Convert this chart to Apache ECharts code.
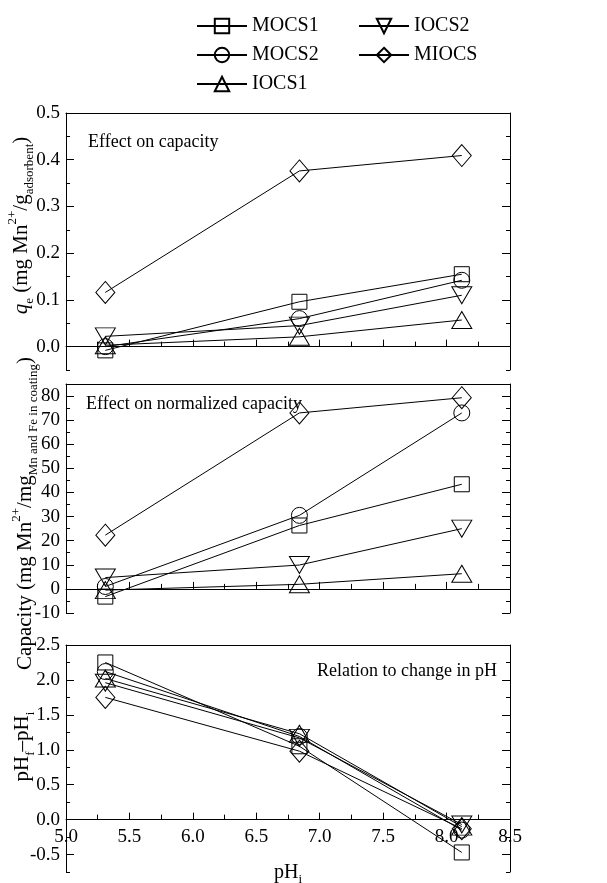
<!DOCTYPE html>
<html>
<head>
<meta charset="utf-8">
<script src="https://cdn.jsdelivr.net/npm/echarts@6/dist/echarts.min.js"></script>
<style>html,body{margin:0;background:#fff}#c{width:607px;height:883px}</style>
</head>
<body>
<div id="c"></div>
<script>
// pH-effekt på Mn2+-adsorption: tre paneler (q_e, normaliserad kapacitet, ΔpH)
const PH_I = [5.31, 6.84, 8.12]
const NAMES = ['MOCS1', 'MOCS2', 'IOCS1', 'IOCS2', 'MIOCS']

// panel 1: q_e (mg Mn2+/g adsorbent)
const QE_MOCS1 = [-0.008, 0.096, 0.155]
const QE_MOCS2 = [0.0, 0.06, 0.142]
const QE_IOCS1 = [0.003, 0.021, 0.057]
const QE_IOCS2 = [0.022, 0.045, 0.11]
const QE_MIOCS = [0.116, 0.376, 0.409]

// panel 2: normaliserad kapacitet
const NC_MOCS1 = [-3.2, 26.3, 43.4]
const NC_MOCS2 = [1.0, 30.5, 73.0]
const NC_IOCS1 = [-0.5, 1.9, 6.3]
const NC_IOCS2 = [4.7, 9.9, 25.0]
const NC_MIOCS = [22.3, 73.0, 79.3]

// panel 3: pHf - pHi
const DPH_MOCS1 = [2.25, 1.05, -0.47]
const DPH_MOCS2 = [2.12, 1.19, -0.15]
const DPH_IOCS1 = [2.02, 1.23, -0.1]
const DPH_IOCS2 = [1.96, 1.17, -0.07]
const DPH_MIOCS = [1.75, 0.98, -0.13]

const Y1_TICKS = [0, 0.1, 0.2, 0.3, 0.4, 0.5]
const Y2_TICKS = [-10, 0, 10, 20, 30, 40, 50, 60, 70, 80]
const Y3_TICKS = [-0.5, 0, 0.5, 1, 1.5, 2, 2.5]

const FONT = "'Liberation Serif', 'Times New Roman', serif"
const SYM = ['rect', 'circle', 'triangle', 'path://M0,0L20,0L10,17Z', 'diamond']
const SYM_SIZE = [[15, 15], [16, 16], [20, 17], [20, 17], [19, 22]]
const BLACK = '#000'

const GRIDS = [
  { left: 66, width: 444, top: 113, height: 257, outerBoundsMode: 'none' },
  { left: 66, width: 444, top: 384, height: 229, outerBoundsMode: 'none' },
  { left: 66, width: 444, top: 645, height: 227, outerBoundsMode: 'none' }
]
const Y3_MIN = -0.75, Y3_MAX = 2.5
// nedersta panelens x-axel (med etiketter) ligger vid y = 0
const X3_OFFSET = -GRIDS[2].height * (0 - Y3_MIN) / (Y3_MAX - Y3_MIN)

const nameRich = {
  t: { fontFamily: FONT, fontSize: 21, color: BLACK, lineHeight: 30 },
  i: { fontFamily: FONT, fontSize: 21, color: BLACK, lineHeight: 30, fontStyle: 'italic' },
  s: { fontFamily: FONT, fontSize: 13, color: BLACK, lineHeight: 13, verticalAlign: 'bottom' },
  p: { fontFamily: FONT, fontSize: 13, color: BLACK, lineHeight: 13, verticalAlign: 'top' }
}

function yAxes(g, min, max, ticks, minor, dec, name, gap, pad) {
  const base = { gridIndex: g, type: 'value', min, max, splitLine: { show: false } }
  const line = { show: true, onZero: false, lineStyle: { color: BLACK, width: 1 } }
  const majT = { show: true, inside: true, length: 8, customValues: ticks, lineStyle: { color: BLACK } }
  const minT = { show: true, inside: true, length: 4, lineStyle: { color: BLACK } }
  return [
    Object.assign({}, base, {
      position: 'left', axisLine: line, axisTick: majT,
      axisLabel: { customValues: ticks, formatter: v => (+v).toFixed(dec), margin: 6, color: BLACK, fontFamily: FONT, fontSize: 19 },
      name, nameLocation: 'middle', nameRotate: 90, nameGap: gap, nameMoveOverlap: false,
      nameTextStyle: { color: BLACK, fontFamily: FONT, fontSize: 21, padding: pad, rich: nameRich }
    }),
    Object.assign({}, base, { position: 'left', interval: minor, axisLine: { show: false, onZero: false }, axisTick: minT, axisLabel: { show: false } }),
    Object.assign({}, base, { position: 'right', axisLine: line, axisTick: majT, axisLabel: { show: false } }),
    Object.assign({}, base, { position: 'right', interval: minor, axisLine: { show: false, onZero: false }, axisTick: minT, axisLabel: { show: false } })
  ]
}

function xAxes(g, labels) {
  const ax = {
    gridIndex: g, type: 'value', min: 5, max: 8.5, interval: 0.5, position: 'bottom',
    axisLine: { onZero: !labels, lineStyle: { color: BLACK, width: 1 } },
    axisTick: { inside: true, length: 7, lineStyle: { color: BLACK } },
    minorTick: { show: true, splitNumber: 2, length: 5, lineStyle: { color: BLACK } },
    axisLabel: { show: labels, formatter: v => (+v).toFixed(1), margin: 8, color: BLACK, fontFamily: FONT, fontSize: 19 },
    splitLine: { show: false }
  }
  if (labels) {
    ax.offset = X3_OFFSET
    ax.name = '{t|pH}{s|i}'
    ax.nameLocation = 'middle'
    ax.nameGap = 40
    ax.nameMoveOverlap = false
    ax.nameTextStyle = { color: BLACK, fontFamily: FONT, fontSize: 20, rich: {
      t: { fontFamily: FONT, fontSize: 20, color: BLACK, lineHeight: 26 },
      s: { fontFamily: FONT, fontSize: 13, color: BLACK, lineHeight: 13, verticalAlign: 'bottom' } } }
  }
  return [ax, {
    gridIndex: g, type: 'value', min: 5, max: 8.5, position: 'top',
    axisLine: { show: true, onZero: false, lineStyle: { color: BLACK, width: 1 } },
    axisTick: { show: false }, axisLabel: { show: false }, splitLine: { show: false }
  }]
}

function series(g, arrs) {
  return NAMES.map((n, k) => ({
    name: n, type: 'line', xAxisIndex: 2 * g, yAxisIndex: 4 * g,
    data: PH_I.map((x, j) => [x, arrs[k][j]]),
    symbol: SYM[k], symbolSize: SYM_SIZE[k], showAllSymbol: true,
    itemStyle: { color: 'rgba(0,0,0,0)', borderColor: BLACK, borderWidth: 1 },
    lineStyle: { color: BLACK, width: 1 },
    emphasis: { disabled: true }
  }))
}

const legendBase = {
  orient: 'vertical', top: 16, padding: 0, itemWidth: 50, itemHeight: 18, itemGap: 9,
  selectedMode: false, textStyle: { fontFamily: FONT, fontSize: 20, color: BLACK }
}

const chart = echarts.init(document.getElementById('c'))
chart.setOption({
  animation: false,
  backgroundColor: '#fff',
  grid: GRIDS,
  legend: [
    Object.assign({}, legendBase, { left: 196, data: ['MOCS1', 'MOCS2', 'IOCS1'] }),
    Object.assign({}, legendBase, { left: 358, data: ['IOCS2', 'MIOCS'] })
  ],
  xAxis: [].concat(xAxes(0, false), xAxes(1, false), xAxes(2, true)),
  yAxis: [].concat(
    yAxes(0, -0.05, 0.5, Y1_TICKS, 0.05, 1, '{i|q}{s|e}{t| (mg Mn}{p|2+}{t|/g}{s|adsorbent}{t|)}', 30, [0, 0, 0, 32]),
    yAxes(1, -10, 85, Y2_TICKS, 5, 0, '{t|Capacity (mg Mn}{p|2+}{t|/mg}{s|Mn and Fe in coating}{t|)}', 26, [0, 30, 0, 0]),
    yAxes(2, Y3_MIN, Y3_MAX, Y3_TICKS, 0.25, 1, '{t|pH}{s|f}{t|–pH}{s|i}', 29, [0, 0, 0, 24])
  ),
  graphic: [
    { type: 'text', left: 88, top: 133, style: { text: 'Effect on capacity', font: '18px ' + FONT, fill: BLACK } },
    { type: 'text', left: 86, top: 395, style: { text: 'Effect on normalized capacity', font: '18px ' + FONT, fill: BLACK } },
    { type: 'text', right: 110, top: 662, style: { text: 'Relation to change in pH', font: '18px ' + FONT, fill: BLACK } }
  ],
  series: [].concat(
    series(0, [QE_MOCS1, QE_MOCS2, QE_IOCS1, QE_IOCS2, QE_MIOCS]),
    series(1, [NC_MOCS1, NC_MOCS2, NC_IOCS1, NC_IOCS2, NC_MIOCS]),
    series(2, [DPH_MOCS1, DPH_MOCS2, DPH_IOCS1, DPH_IOCS2, DPH_MIOCS])
  )
})
</script>
</body>
</html>
